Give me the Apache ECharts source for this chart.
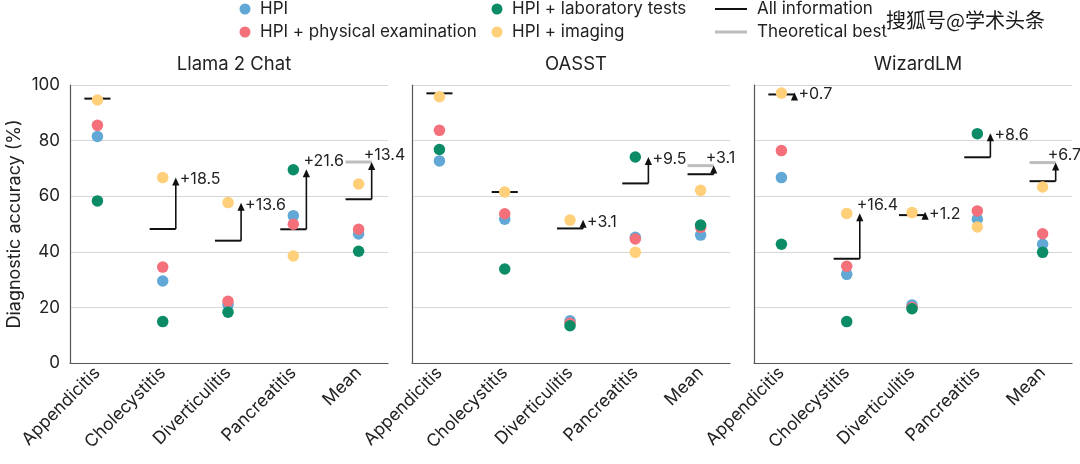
<!DOCTYPE html>
<html>
<head>
<meta charset="utf-8">
<script src="https://cdn.jsdelivr.net/npm/echarts@6/dist/echarts.min.js"></script>
<style>html,body{margin:0;padding:0;background:#fff}#c{width:1080px;height:464px}</style>
</head>
<body>
<div id="c"></div>
<script>
// ---- data ----
const categories = ['Appendicitis', 'Cholecystitis', 'Diverticulitis', 'Pancreatitis', 'Mean'];
const models = ['Llama 2 Chat', 'OASST', 'WizardLM'];
const seriesNames = ['HPI', 'HPI + physical examination', 'HPI + laboratory tests', 'HPI + imaging'];
const yTicks = [0, 20, 40, 60, 80, 100];

const llamaHPI = [81.5, 29.5, 21.0, 53.0, 46.4];
const llamaPE  = [85.5, 34.5, 22.2, 49.9, 48.1];
const llamaLab = [58.3, 14.9, 18.3, 69.5, 40.2];
const llamaImg = [94.6, 66.7, 57.7, 38.5, 64.4];
const llamaAll = [95.1, 48.2, 44.0, 48.1, 58.9];
const llamaBest = [95.1, 66.7, 57.6, 69.7, 72.3];
const llamaGain = ['', '+18.5', '+13.6', '+21.6', '+13.4'];

const oasstHPI = [72.7, 51.7, 15.2, 45.2, 46.0];
const oasstPE  = [83.7, 53.7, 14.3, 44.6, 48.8];
const oasstLab = [76.8, 33.8, 13.4, 74.1, 49.6];
const oasstImg = [95.8, 61.5, 51.4, 39.8, 62.1];
const oasstAll = [97.0, 61.5, 48.4, 64.6, 67.9];
const oasstBest = [97.0, 61.5, 51.5, 74.1, 71.0];
const oasstGain = ['', '', '+3.1', '+9.5', '+3.1'];

const wizHPI = [66.7, 31.9, 20.9, 51.7, 42.7];
const wizPE  = [76.4, 34.8, 20.0, 54.7, 46.5];
const wizLab = [42.7, 14.9, 19.5, 82.5, 39.8];
const wizImg = [97.1, 53.8, 54.1, 48.9, 63.3];
const wizAll = [96.6, 37.5, 53.2, 74.0, 65.4];
const wizBest = [97.3, 53.9, 54.4, 82.6, 72.1];
const wizGain = ['+0.7', '+16.4', '+1.2', '+8.6', '+6.7'];

// ---- style config ----
const colors = ['#62A8D6', '#F4717B', '#0B8C67', '#FFCF7A'];
const labelLift = [[0, 0, 0, 10, 9], [0, 0, 0, 0, 9], [0, 10, 0, 0, 9]];
const labelDx = [[4, 4, 4, -3, -8], [4, 4, 4, 4, -8], [4, -3, 4, 4, -8]];
const gridLefts = [70, 412, 754];
const FONT = 'Inter, "Noto Sans", sans-serif';
const TXT = '#222';

const panels = [
  {vals: [llamaHPI, llamaPE, llamaLab, llamaImg], all: llamaAll, best: llamaBest, gain: llamaGain},
  {vals: [oasstHPI, oasstPE, oasstLab, oasstImg], all: oasstAll, best: oasstBest, gain: oasstGain},
  {vals: [wizHPI, wizPE, wizLab, wizImg], all: wizAll, best: wizBest, gain: wizGain}
];

const grids = [], xAxes = [], yAxes = [], series = [], titles = [];
panels.forEach((p, k) => {
  grids.push({left: gridLefts[k], top: 85, width: 318, height: 278, containLabel: false});
  titles.push({text: models[k], left: gridLefts[k] + 159, top: 50, textAlign: 'center',
    textStyle: {fontFamily: FONT, fontSize: 18.5, fontWeight: 'normal', color: TXT}});
  xAxes.push({
    type: 'value', gridIndex: k, min: -0.42, max: 4.45,
    splitLine: {show: false}, axisTick: {show: false},
    axisLine: {show: true, onZero: false, lineStyle: {color: '#555', width: 1.2}},
    axisLabel: {customValues: [0, 1, 2, 3, 4], formatter: v => categories[Math.round(v)],
      rotate: 45, fontSize: 17.5, fontFamily: FONT, color: TXT, margin: 7, showMinLabel: true, showMaxLabel: true}
  });
  yAxes.push({
    type: 'value', gridIndex: k, min: 0, max: 100, interval: 20,
    axisLine: {show: true, onZero: false, lineStyle: {color: '#555', width: 1.2}},
    axisTick: {show: false},
    splitLine: {show: true, lineStyle: {color: '#d6d6d6', width: 1}},
    axisLabel: {show: k === 0, fontSize: 17, fontFamily: FONT, color: TXT, margin: 10,
      customValues: yTicks},
    name: k === 0 ? 'Diagnostic accuracy (%)' : '',
    nameLocation: 'middle', nameGap: 46, nameRotate: 90,
    nameTextStyle: {fontSize: 18, fontFamily: FONT, color: TXT}
  });
  // all-information lines
  series.push({
    type: 'custom', xAxisIndex: k, yAxisIndex: k, z: 1, silent: true,
    data: p.all.map((v, i) => [i, v]),
    renderItem: (params, api) => {
      const a = api.coord([api.value(0) - 0.2, api.value(1)]);
      const b = api.coord([api.value(0) + 0.2, api.value(1)]);
      return {type: 'line', shape: {x1: a[0], y1: a[1], x2: b[0], y2: b[1]},
        style: {stroke: '#111', lineWidth: 2}};
    }
  });
  // theoretical best line (mean only)
  series.push({
    type: 'custom', xAxisIndex: k, yAxisIndex: k, z: 1, silent: true,
    data: [[4, p.best[4]]],
    renderItem: (params, api) => {
      const a = api.coord([api.value(0) - 0.2, api.value(1)]);
      const b = api.coord([api.value(0) + 0.2, api.value(1)]);
      return {type: 'line', shape: {x1: a[0], y1: a[1], x2: b[0], y2: b[1]},
        style: {stroke: '#bdbdbd', lineWidth: 3}};
    }
  });
  // points
  p.vals.forEach((arr, s) => {
    series.push({
      type: 'scatter', name: seriesNames[s], xAxisIndex: k, yAxisIndex: k, z: 2 + s * 0.1,
      symbolSize: 11.5, itemStyle: {color: colors[s], opacity: 1},
      data: arr.map((v, i) => [i, v])
    });
  });
  // arrows + gain labels
  series.push({
    type: 'custom', xAxisIndex: k, yAxisIndex: k, z: 4, silent: true,
    data: p.all.map((v, i) => [i, v, p.best[i]]),
    renderItem: (params, api) => {
      const i = params.dataIndex;
      if (!p.gain[i]) return null;
      const base = api.coord([i + 0.2, p.all[i]]);
      const tip = api.coord([i + 0.2, p.best[i]]);
      const headLen = 8, headW = 3.6;
      const children = [];
      if (tip[1] + headLen < base[1]) {
        children.push({type: 'line', shape: {x1: base[0], y1: base[1], x2: tip[0], y2: tip[1] + headLen - 1},
          style: {stroke: '#111', lineWidth: 1.6}});
      }
      children.push({type: 'polygon', shape: {points: [[tip[0], tip[1]], [tip[0] - headW, tip[1] + headLen], [tip[0] + headW, tip[1] + headLen]]},
        style: {fill: '#111'}});
      children.push({type: 'text', x: tip[0] + labelDx[k][i], y: tip[1] + 2 - labelLift[k][i],
        style: {text: p.gain[i], fontSize: 16, fontFamily: FONT, fill: TXT, align: 'left', verticalAlign: 'middle'}});
      return {type: 'group', children};
    }
  });
});

// legend (graphic)
const legendItems = [];
const dotCols = [[245, 9, 0], [245, 32, 1], [497, 9, 2], [497, 32, 3]];
dotCols.forEach(([x, y, s]) => {
  legendItems.push({type: 'circle', shape: {cx: x, cy: y, r: 5.5}, style: {fill: colors[s]}});
  legendItems.push({type: 'text', x: x + 15, y: y, style: {text: seriesNames[s], fontSize: 17, fontFamily: FONT, fill: TXT, verticalAlign: 'middle'}});
});
legendItems.push({type: 'line', shape: {x1: 715, y1: 9, x2: 747, y2: 9}, style: {stroke: '#111', lineWidth: 2}});
legendItems.push({type: 'text', x: 757, y: 9, style: {text: 'All information', fontSize: 17, fontFamily: FONT, fill: TXT, verticalAlign: 'middle'}});
legendItems.push({type: 'line', shape: {x1: 715, y1: 32, x2: 747, y2: 32}, style: {stroke: '#bdbdbd', lineWidth: 3}});
legendItems.push({type: 'text', x: 757, y: 32, style: {text: 'Theoretical best', fontSize: 17, fontFamily: FONT, fill: TXT, verticalAlign: 'middle'}});
legendItems.push({type: 'text', x: 886, y: 20, z: 100, style: {text: '搜狐号@学术头条', fontSize: 20, fontFamily: '"Noto Sans CJK SC", sans-serif', fill: '#1a1a1a', stroke: '#ffffff', lineWidth: 3, verticalAlign: 'middle'}});

const chart = echarts.init(document.getElementById('c'), null, {renderer: 'canvas'});
chart.setOption({
  animation: false,
  backgroundColor: '#fff',
  title: titles,
  grid: grids,
  xAxis: xAxes,
  yAxis: yAxes,
  series: series,
  graphic: legendItems
});
</script>
</body>
</html>
